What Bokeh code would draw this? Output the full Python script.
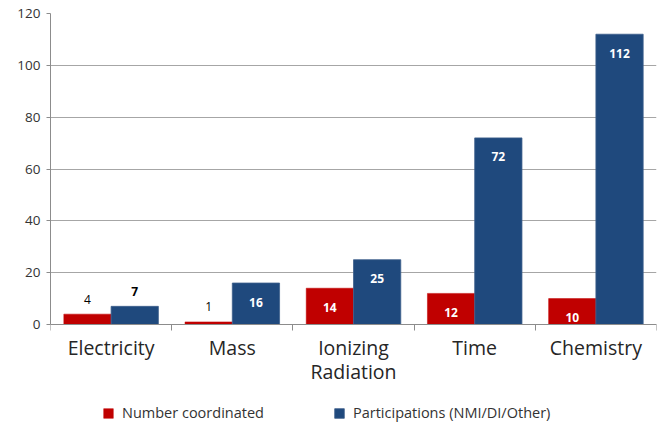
import numpy as np
from bokeh.plotting import figure
from bokeh.models import ColumnDataSource, FixedTicker, Legend, LegendItem, Range1d, LinearAxis
from bokeh.core.properties import value
from bokeh.embed import file_html
from bokeh.resources import INLINE

categories = ["Electricity", "Mass", "Ionizing\nRadiation", "Time", "Chemistry"]
coordinated = [4, 1, 14, 12, 10]
participations = [7, 16, 25, 72, 112]
series_names = ["Number coordinated", "Participations (NMI/DI/Other)"]
y_ticks = [0, 20, 40, 60, 80, 100, 120]

RED = "#C00000"
BLUE = "#1F497D"
FONT = "Open Sans"
BAR_W = 0.39

# layout: plot frame spans to the bottom of the canvas; the value axis covers 0..120 in
# the upper 311 px, the lower 103 px hold category labels and legend
Y_MAX = 120
PLOT_PX = 311
BELOW_PX = 103
y_start = -BELOW_PX / PLOT_PX * Y_MAX

centers = np.arange(len(categories)) + 0.5

p = figure(width=665, height=427, output_backend="svg", toolbar_location=None,
           x_range=Range1d(0, len(categories)), y_range=Range1d(y_start, Y_MAX),
           x_axis_location=None,
           min_border_left=50, min_border_right=9, min_border_top=13, min_border_bottom=0)
p.outline_line_color = None
p.background_fill_color = "white"

src_r = ColumnDataSource(dict(x=centers - BAR_W / 2, top=coordinated))
src_b = ColumnDataSource(dict(x=centers + BAR_W / 2, top=participations))
r_red = p.vbar(x="x", top="top", bottom=0, width=BAR_W, source=src_r,
               fill_color=RED, line_color=RED, line_width=0.5)
r_blue = p.vbar(x="x", top="top", bottom=0, width=BAR_W, source=src_b,
                fill_color=BLUE, line_color="#3D5F8C", line_width=0.8)

# data labels
xs, ys, txt, col, sty, off = [], [], [], [], [], []
for series, dx, is_blue in ((coordinated, -BAR_W / 2, False), (participations, BAR_W / 2, True)):
    for c, v in zip(centers, series):
        xs.append(c + dx)
        ys.append(v)
        txt.append(str(v))
        if v < 9:
            col.append("#000000")
            sty.append("bold" if is_blue else "normal")
            off.append(-15)
        else:
            col.append("white")
            sty.append("bold")
            off.append(19)
lab = ColumnDataSource(dict(x=xs, y=ys, text=txt, color=col, style=sty, off=off))
p.text(x="x", y="y", text="text", source=lab, text_color="color", text_font_style="style",
       y_offset="off", text_align="center", text_baseline="middle",
       text_font=value(FONT), text_font_size="12px")

# grid
p.xgrid.grid_line_color = None
p.ygrid.grid_line_color = "#A6A6A6"
p.ygrid.grid_line_width = 1
p.ygrid.ticker = FixedTicker(ticks=y_ticks)

# y axis
p.yaxis.ticker = FixedTicker(ticks=y_ticks)
p.yaxis.bounds = (0, Y_MAX)
p.yaxis.axis_line_color = "#8C8C8C"
p.yaxis.major_tick_line_color = "#8C8C8C"
p.yaxis.major_tick_out = 4
p.yaxis.major_tick_in = 0
p.yaxis.minor_tick_line_color = None
p.yaxis.major_label_text_font = FONT
p.yaxis.major_label_text_font_size = "13.5px"
p.yaxis.major_label_text_color = "#333333"
p.yaxis.major_label_standoff = 6

# x axis at value 0
xaxis = LinearAxis(fixed_location=0)
xaxis.ticker = FixedTicker(ticks=list(centers), minor_ticks=list(range(len(categories) + 1)))
xaxis.major_label_overrides = {float(c): lbl for c, lbl in zip(centers, categories)}
xaxis.axis_line_color = "#8C8C8C"
xaxis.major_tick_line_color = None
xaxis.major_tick_out = 0
xaxis.major_tick_in = 0
xaxis.minor_tick_line_color = "#8C8C8C"
xaxis.minor_tick_out = 6
xaxis.minor_tick_in = 0
xaxis.major_label_text_font = FONT
xaxis.major_label_text_font_size = "19.5px"
xaxis.major_label_text_color = "#262626"
xaxis.major_label_text_line_height = 0.92
xaxis.major_label_standoff = 3
p.add_layout(xaxis, "below")

# legends
for renderer, name, loc in ((r_red, series_names[0], (52, 5)), (r_blue, series_names[1], (283, 5))):
    lg = Legend(items=[LegendItem(label=name, renderers=[renderer])], location=loc,
                orientation="horizontal", padding=0, margin=0, border_line_color=None,
                background_fill_alpha=0, glyph_width=12, glyph_height=12, label_height=12,
                label_standoff=8, label_text_font=FONT, label_text_font_size="14.5px",
                label_text_color="#333333")
    p.add_layout(lg)

open("out.html", "w").write(file_html(p, INLINE))
